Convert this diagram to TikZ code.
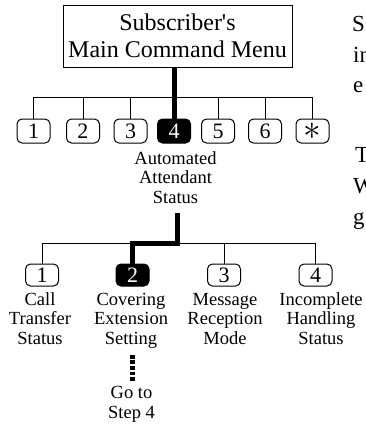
\documentclass[tikz,border=0pt]{standalone}
\usepackage{fontspec}
\setmainfont{Liberation Serif}
\begin{document}
\begin{tikzpicture}[x=1pt,y=-1pt,
  conn/.style={line width=1pt},
  thickline/.style={line width=5pt},
  dotline/.style={line width=4.5pt, dash pattern=on 3.8pt off 1.8pt},
  btn/.style={draw, line width=1pt, rounded corners=5pt, minimum width=33pt, minimum height=24pt, inner sep=0pt, font=\fontsize{22}{22}\selectfont},
  btnsel/.style={btn, fill=black, text=white},
  lbl/.style={align=center, inner sep=0pt, anchor=base, font=\fontsize{18.5}{19.8}\selectfont},
  rt/.style={inner sep=0pt, anchor=base west, font=\fontsize{23}{23}\selectfont}]
\useasboundingbox (0,0) rectangle (365,424);

\node[draw, line width=1pt, minimum width=229pt, minimum height=62pt, inner sep=0pt, align=center, font=\fontsize{24}{27.5}\selectfont] (menu) at (177.5,36) {Subscriber\textquotesingle s\\Main Command Menu};

\node[btn] (b1) at (33.5,131) {1};
\node[btn] (b2) at (83,131) {2};
\node[btn] (b3) at (130.5,131) {3};
\node[btnsel] (b4) at (174,131) {4};
\node[btn] (b5) at (218,131) {5};
\node[btn] (b6) at (265,131) {6};
\node[btn] (b7) at (312.5,131) {\scalebox{1.7}{$\ast$}};

\coordinate (bus1) at (0,97);
\draw[conn] (b1.north) |- (bus1 -| b7.north) -- (b7.north);
\foreach \n in {b2,b3,b5,b6} \draw[conn] (\n.north) -- (\n.north |- bus1);
\draw[thickline] (b4.north |- menu.south) -- (b4.north);

\node[lbl] (aa) at (175.5,203.6) {Automated\\Attendant\\Status};
\coordinate (t2) at (177,213);

\node[btn, minimum height=22pt] (c1) at (42,275) {1};
\node[btnsel, minimum height=22pt] (c2) at (132.5,275) {2};
\node[btn, minimum height=22pt] (c3) at (224,275) {3};
\node[btn, minimum height=22pt] (c4) at (315.5,275) {4};

\coordinate (bus2) at (0,243);
\draw[conn] (c1.north) |- (bus2 -| c4.north) -- (c4.north);
\draw[conn] (c3.north) -- (c3.north |- bus2);
\draw[thickline] (t2) |- (bus2 -| c2.north) -- (c2.north);

\node[lbl] (l1) at (40,344.6) {Call\\Transfer\\Status};
\node[lbl] (l2) at (131,344.6) {Covering\\Extension\\Setting};
\node[lbl] (l3) at (225,344.6) {Message\\Reception\\Mode};
\node[lbl] (l4) at (321,344.6) {Incomplete\\Handling\\Status};
\node[lbl] (goto) at (131.5,418.5) {Go to\\Step 4};

\draw[dotline, shorten <=6pt, shorten >=4pt] (c2 |- l2.south) -- (c2 |- goto.north);

\node[rt] (r1) at (352,31) {S};
\node[rt] (r2) at (353,62) {in};
\node[rt] (r3) at (353,92) {e};
\node[rt] (r4) at (355,162) {T};
\node[rt] (r5) at (353,193) {W};
\node[rt] (r6) at (353,224) {g};
\end{tikzpicture}
\end{document}
